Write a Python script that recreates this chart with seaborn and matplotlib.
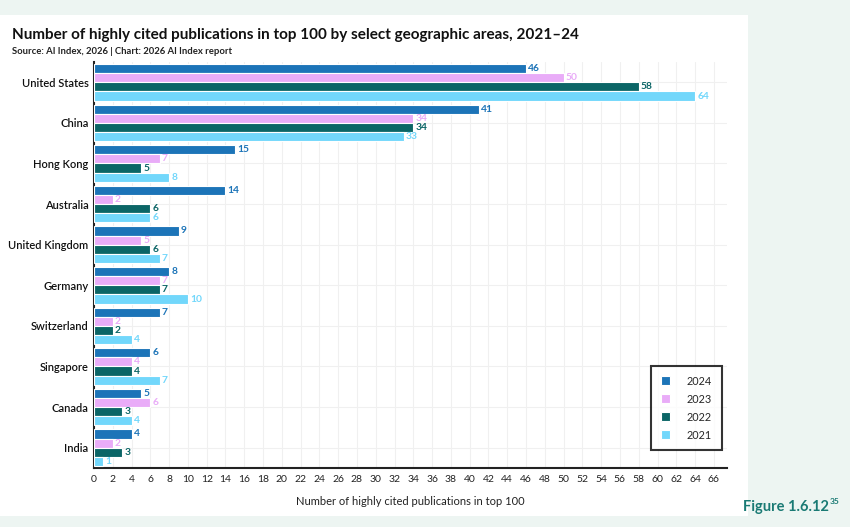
import pandas as pd
import matplotlib.pyplot as plt
import seaborn as sns
from matplotlib.patches import Rectangle

# Data
countries = ["United States", "China", "Hong Kong", "Australia", "United Kingdom",
             "Germany", "Switzerland", "Singapore", "Canada", "India"]
years = ["2024", "2023", "2022", "2021"]
v2024 = [46, 41, 15, 14, 9, 8, 7, 6, 5, 4]
v2023 = [50, 34, 7, 2, 5, 7, 2, 4, 6, 2]
v2022 = [58, 34, 5, 6, 6, 7, 2, 4, 3, 3]
v2021 = [64, 33, 8, 6, 7, 10, 4, 7, 4, 1]
x_ticks = list(range(0, 67, 2))

colors = ["#1c74b8", "#e9acf8", "#0b6566", "#72d7fb"]

df = pd.DataFrame({
    "Country": countries * 4,
    "Year": [y for y in years for _ in countries],
    "Value": v2024 + v2023 + v2022 + v2021,
})

sns.set_theme(style="white")
plt.rcParams["font.family"] = ["Lato", "DejaVu Sans"]

fig = plt.figure(figsize=(8.5, 5.27), dpi=100)
fig.patch.set_facecolor("#edf5f2")
# white card behind the chart
fig.patches.append(Rectangle((0, 1 - 516 / 527), 748 / 850, (516 - 15) / 527,
                             transform=fig.transFigure, facecolor="white",
                             edgecolor="none", zorder=-5))

ax = fig.add_axes([94 / 850, 1 - 468 / 527, (727 - 94) / 850, (468 - 62) / 527])
ax.set_zorder(2)
ax.set_facecolor("white")

sns.barplot(data=df, y="Country", x="Value", hue="Year", hue_order=years,
            order=countries, palette=colors, saturation=1, width=0.9, orient="h",
            edgecolor="white", linewidth=0.8, ax=ax, zorder=3)

for cont, c in zip(ax.containers, colors):
    ax.bar_label(cont, padding=1.5, color=c, fontsize=7.4, fontweight="bold")

ax.set_xlim(0, 67.4)
ax.set_xticks(x_ticks)
ax.tick_params(axis="x", labelsize=7.5, length=0, pad=5, colors="#222222")
ax.tick_params(axis="y", labelsize=8, length=0, pad=4, colors="#111111")
for t in ax.get_yticklabels():
    t.set_fontweight("semibold")
ax.grid(axis="both", color="#f0f0f0", linewidth=0.8, zorder=0)
ax.set_axisbelow(True)
ax.set_xlabel("Number of highly cited publications in top 100", fontsize=8,
              labelpad=9, color="#222222")
ax.set_ylabel("")
for s in ["top", "right"]:
    ax.spines[s].set_visible(False)
for s in ["left", "bottom"]:
    ax.spines[s].set_color("#222222")
    ax.spines[s].set_linewidth(1.5)

leg = ax.legend(loc="lower right", bbox_to_anchor=(1.0, 0.03), fontsize=7.8,
                frameon=True, fancybox=False, handlelength=0.9, handleheight=0.9,
                handletextpad=1.5, borderpad=0.9, labelspacing=0.65)
leg.get_frame().set_edgecolor("black")
leg.get_frame().set_linewidth(1.5)

fig.text(12 / 850, 1 - 35 / 527, "Number of highly cited publications in top 100 by select geographic areas, 2021\u201324",
         fontsize=11, fontweight="bold", color="#111111", va="center")
fig.text(12 / 850, 1 - 52 / 527, "Source: AI Index, 2026 | Chart: 2026 AI Index report",
         fontsize=6.8, fontweight="bold", color="#222222", va="center")
fig.text(829 / 850, 1 - 507 / 527, "Figure 1.6.12", fontsize=10.5,
         fontweight="bold", color="#1a7a74", ha="right", va="center")
fig.text(830 / 850, 1 - 501 / 527, "35", fontsize=6,
         fontweight="bold", color="#1a7a74", ha="left", va="center")

fig.savefig("out.png", dpi=100, facecolor=fig.get_facecolor())
